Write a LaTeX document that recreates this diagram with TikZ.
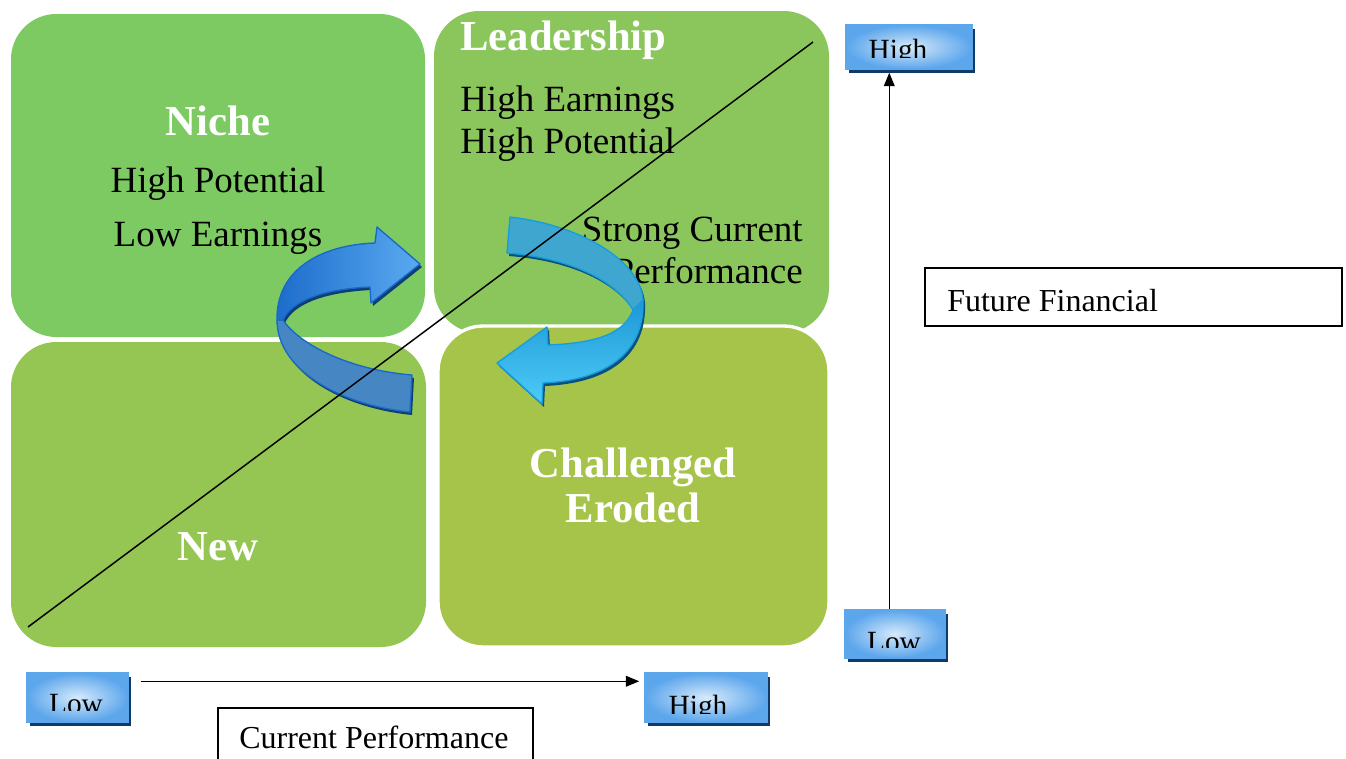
\documentclass[tikz,border=0pt]{standalone}
\usepackage{fontspec}
\setmainfont{Liberation Serif}
\usetikzlibrary{positioning,fit,calc,shadows,arrows.meta}
\definecolor{nichegreen}{RGB}{125,202,99}
\definecolor{leadgreen}{RGB}{139,198,92}
\definecolor{newgreen}{RGB}{149,197,83}
\definecolor{challgreen}{RGB}{166,195,74}
\definecolor{boxblue}{RGB}{92,166,236}
\definecolor{boxlight}{RGB}{214,234,251}
\definecolor{shadownavy}{RGB}{16,58,104}
\definecolor{ribbonback}{RGB}{70,135,195}
\definecolor{ribbonedge}{RGB}{24,104,200}
\definecolor{ribbondark}{RGB}{28,108,204}
\definecolor{ribbonlight}{RGB}{90,170,240}
\definecolor{ribbonnavy}{RGB}{14,62,115}
\definecolor{tealback}{RGB}{63,166,207}
\definecolor{tealedge}{RGB}{22,158,220}
\definecolor{tealdark}{RGB}{30,152,214}
\definecolor{teallight}{RGB}{77,203,248}
\definecolor{tealnavy}{RGB}{10,80,125}

\begin{document}
\begin{tikzpicture}[
        x=0.75pt, y=-0.75pt,
        quad/.style={rectangle, rounded corners=34pt, inner sep=0pt},
        title/.style={text=white, inner sep=0pt, font=\fontsize{32}{36}\selectfont\bfseries},
        body/.style={text=black, inner sep=0pt, font=\fontsize{27.75}{32}\selectfont},
        axisbox/.style={rectangle, draw=boxblue, line width=1.1pt, inner color=boxlight, outer color=boxblue, inner sep=0pt, drop shadow={fill=shadownavy, opacity=1, shadow xshift=2.2pt, shadow yshift=-3pt}},
        axistxt/.style={text=black, inner sep=0pt, font=\fontsize{22}{26}\selectfont},
        capbox/.style={rectangle, draw=black, line width=1.1pt, inner sep=0pt},
        captxt/.style={text=black, inner sep=0pt, font=\fontsize{24}{28}\selectfont},
        axisline/.style={-{Triangle[length=10pt,width=8pt]}, line width=1.1pt, black},
        leftback/.style={fill=ribbonback, draw=ribbonedge, line width=1pt, line join=round},
        leftfront/.style={left color=ribbondark, right color=ribbonlight, draw=ribbonedge, line width=1pt, line join=round},
        rightback/.style={fill=tealback, draw=tealedge, line width=1pt, line join=round},
        rightfront/.style={top color=tealdark, bottom color=teallight, draw=tealedge, line width=1pt, line join=round}
    ]
    \useasboundingbox (0,0) rectangle (1346,758);

    % Quadrants
    \node[quad, fill=nichegreen, fit={(11,14) (425,337)}] (niche) {};
    \node[quad, fill=leadgreen, fit={(434,11) (829,333)}] (lead) {};
    \node[quad, fill=newgreen, fit={(11,342) (426,647)}] (new) {};
    \node[quad, fill=challgreen, draw=white, line width=2.5pt, fit={(438,326) (829,647)}] (chall) {};

    % Quadrant texts
    \node[title, anchor=base] (nichetitle) at (218,135) {Niche};
    \node[body, anchor=base] (nichepot) at (218,192) {High Potential};
    \node[body, anchor=base] (nicheearn) at (218,246) {Low Earnings};

    \node[title, anchor=base west] (leadtitle) at (460,50) {Leadership};
    \node[body, anchor=base west] (leadearn) at (460,111) {High Earnings};
    \node[body, anchor=base west] (leadpot) at (460,153) {High Potential};
    \node[body, anchor=base east] (leadstrong) at (803,241) {Strong Current};
    \node[body, anchor=base east] (leadperf) at (803,283) {Performance};

    \node[title, anchor=base] (newtitle) at (218,560) {New};
    \node[title, anchor=base] (challtitle) at (633,477) {Challenged};
    \node[title, anchor=base] (erodedtitle) at (633,522) {Eroded};

    % Turning arrow, left (up into Leadership)
    \begin{scope}[shift={(2,3)}]
        \fill[ribbonnavy] (277,320) .. controls (277,370) and (340,405) .. (410,412) -- (412,375) .. controls (350,370) and (300,345) .. (283,320) -- cycle;
        \fill[ribbonnavy] (375,243) -- (377,227) -- (420,264) -- (371,303) -- (370,287) .. controls (325,289) and (292,300) .. (283,320) -- (277,320) .. controls (276,270) and (320,245) .. (375,243) -- cycle;
    \end{scope}
    \path[leftback] (277,320) .. controls (277,370) and (340,405) .. (410,412) -- (412,375) .. controls (350,370) and (300,345) .. (283,320) -- cycle;
    \path[leftfront] (375,243) -- (377,227) -- (420,264) -- (371,303) -- (370,287) .. controls (325,289) and (292,300) .. (283,320) -- (277,320) .. controls (276,270) and (320,245) .. (375,243) -- cycle;

    % Turning arrow, right (down into Challenged)
    \begin{scope}[shift={(2,3)}]
        \fill[tealnavy] (510,217) .. controls (580,225) and (640,260) .. (643,300) -- (633,310) .. controls (615,280) and (570,258) .. (507,253) -- cycle;
        \fill[tealnavy] (643,300) .. controls (645,350) and (610,380) .. (543,383) -- (542,404) -- (497,363) -- (547,327) -- (548,345) .. controls (600,343) and (625,332) .. (633,310) -- cycle;
    \end{scope}
    \path[rightback] (510,217) .. controls (580,225) and (640,260) .. (643,300) -- (633,310) .. controls (615,280) and (570,258) .. (507,253) -- cycle;
    \path[rightfront] (643,300) .. controls (645,350) and (610,380) .. (543,383) -- (542,404) -- (497,363) -- (547,327) -- (548,345) .. controls (600,343) and (625,332) .. (633,310) -- cycle;

    % Diagonal
    \coordinate (diagstart) at (28,627);
    \coordinate (diagend) at (813,42);
    \draw[line width=1.1pt] (diagstart) -- (diagend);

    % Axis boxes
    \node[axisbox, fit={(846,25) (972,69)}] (highy) {};
    \node[axisbox, fit={(845,610) (945,658)}] (lowy) {};
    \node[axisbox, fit={(27,673) (128,722)}] (lowx) {};
    \node[axisbox, fit={(645,673) (767,722)}] (highx) {};

    \begin{scope}
        \clip (846,25) rectangle (972,57);
        \node[axistxt, anchor=base] (highytxt) at (898,59) {High};
    \end{scope}
    \begin{scope}
        \clip (845,610) rectangle (945,647);
        \node[axistxt, anchor=base] (lowytxt) at (894,651) {Low};
    \end{scope}
    \begin{scope}
        \clip (27,673) rectangle (128,710);
        \node[axistxt, anchor=base] (lowxtxt) at (76,713) {Low};
    \end{scope}
    \begin{scope}
        \clip (645,673) rectangle (767,713);
        \node[axistxt, anchor=base] (highxtxt) at (698,715) {High};
    \end{scope}

    % Axes
    \draw[axisline] ($(lowx.north east)+(12,9)$) -- ($(highx.north west)+(-5,9)$);
    \draw[axisline] ($(lowy.north west)+(45,0)$) -- ($(highy.south west)+(44,3)$);

    % Axis captions
    \node[capbox, fit={(925,268) (1342,326)}] (futurebox) {};
    \node[captxt, anchor=base west] (futuretxt) at (947,311) {Future Financial};
    \node[capbox, fit={(218,708) (533,790)}] (currentbox) {};
    \node[captxt, anchor=base west] (currenttxt) at (239,748) {Current Performance};

\end{tikzpicture}
\end{document}
